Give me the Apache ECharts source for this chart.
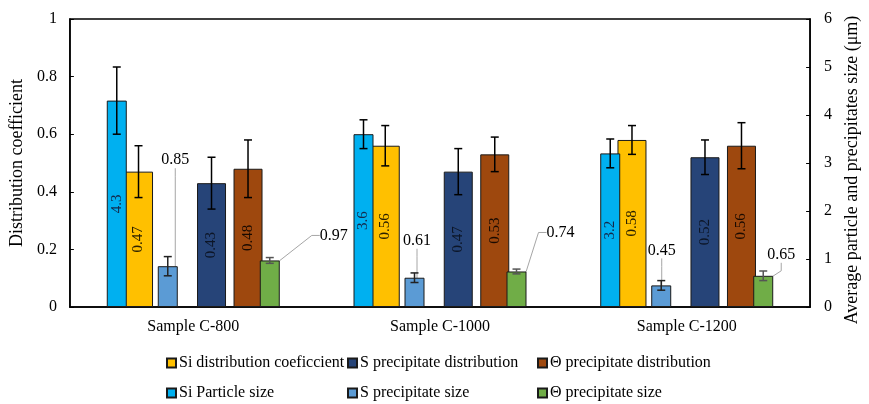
<!DOCTYPE html>
<html>
<head>
<meta charset="utf-8">
<script src="https://cdn.jsdelivr.net/npm/echarts@6/dist/echarts.min.js"></script>
<style>
  html, body { margin: 0; padding: 0; background: #fff; }
  #chart { width: 869px; height: 404px; }
</style>
</head>
<body>
<div id="chart"></div>
<script>
// ---- data ----
const categories = ['Sample C-800', 'Sample C-1000', 'Sample C-1200'];

// distribution coefficients (left axis)
const siDistribution = [0.47, 0.56, 0.58];
const siDistributionErr = [0.09, 0.07, 0.05];
const sDistribution = [0.43, 0.47, 0.52];
const sDistributionErr = [0.09, 0.08, 0.06];
const thetaDistribution = [0.48, 0.53, 0.56];
const thetaDistributionErr = [0.10, 0.06, 0.08];

// particle / precipitate sizes in µm (right axis)
const siParticleSize = [4.3, 3.6, 3.2];
const siParticleSizeErr = [0.7, 0.3, 0.3];
const sPrecipitateSize = [0.85, 0.61, 0.45];
const sPrecipitateSizeErr = [0.2, 0.1, 0.1];
const thetaPrecipitateSize = [0.97, 0.74, 0.65];
const thetaPrecipitateSizeErr = [0.06, 0.05, 0.10];

const emptySlot = [null, null, null];

// axis ranges
const leftAxisRange = { min: 0, max: 1, interval: 0.2 };
const rightAxisRange = { min: 0, max: 6, interval: 1 };

// ---- styling ----
const FONT = "'Liberation Serif', 'Times New Roman', serif";
const COLORS = {
  siSize: '#00B0F0',
  siDist: '#FFC000',
  sSize: '#5B9BD5',
  sDist: '#264478',
  thDist: '#9E480E',
  thSize: '#70AD47'
};
// two independent bar groups (one per x axis)
const PRIMARY = { width: 29, gap: 7.5 / 29, count: 4 };
const SECONDARY = { width: 20, gap: 31 / 20, count: 4 };

// callout label nudges [dx, dy] for the small size bars
const sSizeCallout = [[7.5, -93], [2.5, -24], [0.5, -22]];
const thSizeCallout = [[64, -12], [44, -26], [18, -8]];

const NAMES = {
  siDist: 'Si distribution coeficcient',
  sDist: 'S precipitate distribution',
  thDist: '\u0398 precipitate distribution',
  siSize: 'Si Particle size',
  sSize: 'S precipitate size',
  thSize: '\u0398 precipitate size'
};

function slotOffset(group, slot) {
  return (slot - (group.count - 1) / 2) * group.width * (1 + group.gap);
}

function insideLabel(color) {
  return {
    show: true, position: 'inside', rotate: 90,
    fontFamily: FONT, fontSize: 15, color: color,
    formatter: p => String(p.value)
  };
}

function bar(name, data, color, axisIdx, group, label) {
  const s = {
    name: name, type: 'bar', data: data,
    xAxisIndex: axisIdx, yAxisIndex: axisIdx,
    barWidth: group.width, barGap: (group.gap * 100) + '%',
    itemStyle: { color: color, borderColor: '#1a1a1a', borderWidth: 1 },
    emphasis: { disabled: true },
    animation: false
  };
  if (label) s.label = label;
  return s;
}

function callout(s, nudges) {
  s.label = {
    show: true, position: 'top', distance: 5,
    fontFamily: FONT, fontSize: 16, color: '#000',
    formatter: p => String(p.value)
  };
  s.labelLine = { show: true, length2: 8, lineStyle: { color: '#a6a6a6', width: 1 } };
  s.labelLayout = p => ({ dx: nudges[p.dataIndex][0], dy: nudges[p.dataIndex][1] });
  return s;
}

function errorBars(values, errs, axisIdx, group, slot, color) {
  const off = slotOffset(group, slot);
  return {
    type: 'custom', xAxisIndex: axisIdx, yAxisIndex: axisIdx,
    silent: true, animation: false, z: 3,
    data: values.map((v, i) => [i, v - errs[i], v + errs[i]]),
    renderItem: function (params, api) {
      const i = api.value(0);
      const lo = api.coord([i, api.value(1)]);
      const hi = api.coord([i, api.value(2)]);
      const x = lo[0] + off;
      const cap = 4;
      const st = { stroke: color, lineWidth: 1.5 };
      return {
        type: 'group',
        children: [
          { type: 'line', shape: { x1: x, y1: lo[1], x2: x, y2: hi[1] }, style: st },
          { type: 'line', shape: { x1: x - cap, y1: lo[1], x2: x + cap, y2: lo[1] }, style: st },
          { type: 'line', shape: { x1: x - cap, y1: hi[1], x2: x + cap, y2: hi[1] }, style: st }
        ]
      };
    }
  };
}

const series = [
  // primary group: distribution coefficients
  bar(NAMES.siDist, siDistribution, COLORS.siDist, 0, PRIMARY, insideLabel('#2a2000')),
  bar('primary-spacer', emptySlot, 'transparent', 0, PRIMARY),
  bar(NAMES.sDist, sDistribution, COLORS.sDist, 0, PRIMARY, insideLabel('#0c1526')),
  bar(NAMES.thDist, thetaDistribution, COLORS.thDist, 0, PRIMARY, insideLabel('#1a0a00')),
  // secondary group: sizes
  bar(NAMES.siSize, siParticleSize, COLORS.siSize, 1, SECONDARY, insideLabel('#13294b')),
  callout(bar(NAMES.sSize, sPrecipitateSize, COLORS.sSize, 1, SECONDARY), sSizeCallout),
  bar('secondary-spacer', emptySlot, 'transparent', 1, SECONDARY),
  callout(bar(NAMES.thSize, thetaPrecipitateSize, COLORS.thSize, 1, SECONDARY), thSizeCallout),
  // error bars
  errorBars(siDistribution, siDistributionErr, 0, PRIMARY, 0, '#000'),
  errorBars(sDistribution, sDistributionErr, 0, PRIMARY, 2, '#000'),
  errorBars(thetaDistribution, thetaDistributionErr, 0, PRIMARY, 3, '#000'),
  errorBars(siParticleSize, siParticleSizeErr, 1, SECONDARY, 0, '#000'),
  errorBars(sPrecipitateSize, sPrecipitateSizeErr, 1, SECONDARY, 1, '#222'),
  errorBars(thetaPrecipitateSize, thetaPrecipitateSizeErr, 1, SECONDARY, 3, '#555')
];

// one vertical legend per column so the two rows line up
const legendBase = {
  orient: 'vertical', top: 355, height: 49, padding: 0, itemGap: 14,
  itemWidth: 9, itemHeight: 9, icon: 'rect', selectedMode: false,
  textStyle: { fontFamily: FONT, fontSize: 16, color: '#000', padding: [0, 0, 0, -2] }
};

const axisFont = { fontFamily: FONT, fontSize: 16, color: '#000' };

const option = {
  animation: false,
  backgroundColor: '#fff',
  grid: {
    left: 68, right: 50, top: 19, bottom: 97,
    show: true, borderColor: '#000', borderWidth: 1.5, backgroundColor: 'transparent'
  },
  legend: [
    Object.assign({}, legendBase, { left: 166, data: [NAMES.siDist, NAMES.siSize] }),
    Object.assign({}, legendBase, { left: 347, data: [NAMES.sDist, NAMES.sSize] }),
    Object.assign({}, legendBase, { left: 537, data: [NAMES.thDist, NAMES.thSize] })
  ],
  xAxis: [
    {
      type: 'category', data: categories,
      axisLine: { lineStyle: { color: '#000', width: 1.5 } },
      axisTick: { show: false },
      axisLabel: Object.assign({ margin: 12 }, axisFont)
    },
    { type: 'category', data: categories, show: false }
  ],
  yAxis: [
    {
      type: 'value', min: leftAxisRange.min, max: leftAxisRange.max, interval: leftAxisRange.interval,
      name: 'Distribution coefficient', nameLocation: 'middle', nameGap: 42,
      nameTextStyle: { fontFamily: FONT, fontSize: 18, color: '#000' },
      axisLine: { show: true, lineStyle: { color: '#000', width: 1.5 } },
      axisTick: { show: true, inside: true, length: 4, lineStyle: { color: '#000' } },
      axisLabel: Object.assign({ margin: 13 }, axisFont),
      splitLine: { show: false }
    },
    {
      type: 'value', position: 'right',
      min: rightAxisRange.min, max: rightAxisRange.max, interval: rightAxisRange.interval,
      name: 'Average particle and precipitates size (\u03bcm)', nameLocation: 'middle', nameGap: 24,
      nameTextStyle: { fontFamily: FONT, fontSize: 18, color: '#000', padding: [0, 14, 0, 0] },
      axisLine: { show: true, lineStyle: { color: '#000', width: 1.5 } },
      axisTick: { show: true, inside: true, length: 4, lineStyle: { color: '#000' } },
      axisLabel: Object.assign({ margin: 14 }, axisFont),
      splitLine: { show: false }
    }
  ],
  series: series
};

const chart = echarts.init(document.getElementById('chart'), null, { renderer: 'canvas' });
chart.setOption(option);
</script>
</body>
</html>
